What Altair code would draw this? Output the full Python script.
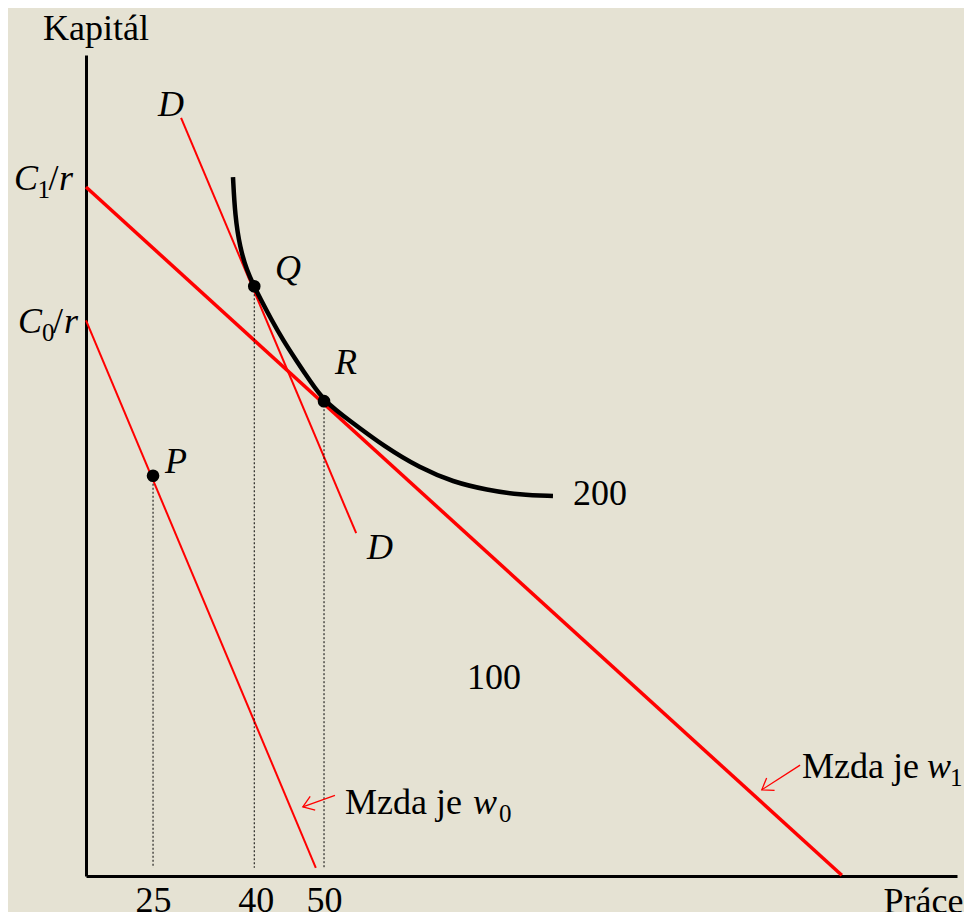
import math
import altair as alt
import pandas as pd

# ---------------- data ----------------
labor_ticks = [25, 40, 50]
x_domain = [15.2, 142.54]
y_domain = [0, 120]

# isocost line for cost C1 (wage w1)
c1_L = [15.2, 125.7]
c1_K = [100.7, 0.1]
# isocost line for cost C0 (wage w0)
c0_L = [15.2, 48.8]
c0_K = [81.2, 1.2]
# line DD (parallel to the C0 line)
dd_L = [29.1, 54.7]
dd_K = [110.8, 50.1]

# isoquant q = 200
iso_L = [36.69, 36.98, 37.71, 38.74, 39.76, 40.64, 42.25, 44.00, 45.90, 47.95, 50.00,
         53.80, 58.91, 64.03, 68.85, 73.83, 78.65, 83.47]
iso_K = [102.16, 96.61, 91.79, 88.45, 86.23, 84.48, 81.41, 78.34, 75.42, 72.35, 69.42,
         66.50, 62.70, 59.63, 57.59, 56.42, 55.69, 55.54]

# optimum points
pt_names = ["P", "Q", "R"]
pt_L = [25.0, 39.8, 50.0]
pt_K = [58.5, 86.2, 69.4]
drop_K = 1.2

# arrows (tail -> head)
arr_tail_L = [119.6, 51.6]
arr_tail_K = [16.2, 11.8]
arr_head_L = [114.0, 46.9]
arr_head_K = [12.6, 10.1]

# text labels
it_text = ["D", "Q", "R", "P", "D", "C", "r", "C", "r", "w", "w"]
it_L = [25.73, 42.83, 51.60, 26.75, 56.28, 4.67, 11.25, 5.26, 11.98, 138.15, 71.78]
it_K = [111.08, 87.11, 73.37, 58.9, 46.33, 100.26, 100.26, 79.36, 79.36, 14.32, 9.06]

rg_text = ["200", "100", "/", "/", "Mzda je", "Mzda je"]
rg_L = [86.40, 70.90, 9.70, 10.38, 119.88, 53.07]
rg_K = [54.22, 27.33, 100.26, 79.36, 14.32, 9.06]

sub_text = ["1", "0", "1", "0"]
sub_L = [8.12, 8.77, 141.52, 75.58]
sub_K = [99.09, 78.19, 13.15, 7.89]

# ---------------- chart ----------------
W, H = 871, 821
FONT = "Liberation Serif"
BG = "#e5e2d3"

X = alt.X(
    "L:Q",
    scale=alt.Scale(domain=x_domain, nice=False, zero=False),
    axis=alt.Axis(
        values=labor_ticks, ticks=False, tickSize=0, grid=False,
        domainColor="black", domainWidth=3,
        labelFont=FONT, labelFontSize=36, labelColor="black",
        labelBaseline="alphabetic", labelPadding=35, labelFlush=False,
        title="Práce", titleFont=FONT, titleFontSize=36, titleFontWeight="normal",
        titleColor="black", titleAlign="right", titleBaseline="alphabetic",
        titleX=877, titleY=36,
    ),
)
Y = alt.Y(
    "K:Q",
    scale=alt.Scale(domain=y_domain, nice=False, zero=False),
    axis=alt.Axis(
        labels=False, ticks=False, tickSize=0, grid=False,
        domainColor="black", domainWidth=3,
        title="Kapitál", titleFont=FONT, titleFontSize=36, titleFontWeight="normal",
        titleColor="black", titleAngle=0, titleAlign="center", titleBaseline="alphabetic",
        titleX=9.5, titleY=-16,
    ),
)

def seg(Ls, Ks):
    return pd.DataFrame({"L": Ls, "K": Ks})

c1 = alt.Chart(seg(c1_L, c1_K)).mark_line(color="#ff0000", strokeWidth=3.5).encode(x=X, y=Y)
c0 = alt.Chart(seg(c0_L, c0_K)).mark_line(color="#ff0000", strokeWidth=2).encode(x=X, y=Y)
dd = alt.Chart(seg(dd_L, dd_K)).mark_line(color="#ff0000", strokeWidth=2).encode(x=X, y=Y)

iso = alt.Chart(pd.DataFrame({"L": iso_L, "K": iso_K, "o": range(len(iso_L))})).mark_line(
    color="black", strokeWidth=4.5, interpolate="basis"
).encode(x=X, y=Y, order="o:Q")

pts_df = pd.DataFrame({"name": pt_names, "L": pt_L, "K": pt_K, "K2": [drop_K] * 3})
drops = alt.Chart(pts_df).mark_rule(color="black", strokeWidth=1, strokeDash=[2, 2]).encode(
    x=X, y=Y, y2="K2:Q"
)
dots = alt.Chart(pts_df).mark_point(filled=True, color="black", size=160, opacity=1).encode(x=X, y=Y)

# arrows
kx = W / (x_domain[1] - x_domain[0])
ky = H / (y_domain[1] - y_domain[0])
angles = []
for tl, tk, hl, hk in zip(arr_tail_L, arr_tail_K, arr_head_L, arr_head_K):
    dx = (hl - tl) * kx
    dy = -(hk - tk) * ky
    angles.append(math.degrees(math.atan2(dy, dx)) % 360)
arr_df = pd.DataFrame({
    "L": arr_tail_L, "K": arr_tail_K, "L2": arr_head_L, "K2": arr_head_K,
})
head_df = pd.DataFrame({"L": arr_head_L, "K": arr_head_K, "ang": angles})
shafts = alt.Chart(arr_df).mark_rule(color="#ff0000", strokeWidth=1.3).encode(
    x=X, y=Y, x2="L2:Q", y2="K2:Q"
)
heads = alt.Chart(head_df).mark_point(
    shape="M-1,-0.7L0,0L-1,0.7", filled=False, color="#ff0000", strokeWidth=1.3, size=440, opacity=1
).encode(x=X, y=Y, angle=alt.Angle("ang:Q", scale=None))

# text
it = alt.Chart(pd.DataFrame({"t": it_text, "L": it_L, "K": it_K})).mark_text(
    font=FONT, fontSize=36, fontStyle="italic", color="black", align="left", baseline="alphabetic"
).encode(x=X, y=Y, text="t:N")
rg = alt.Chart(pd.DataFrame({"t": rg_text, "L": rg_L, "K": rg_K})).mark_text(
    font=FONT, fontSize=36, color="black", align="left", baseline="alphabetic"
).encode(x=X, y=Y, text="t:N")
sb = alt.Chart(pd.DataFrame({"t": sub_text, "L": sub_L, "K": sub_K})).mark_text(
    font=FONT, fontSize=25, color="black", align="left", baseline="alphabetic"
).encode(x=X, y=Y, text="t:N")

chart = alt.layer(c0, dd, c1, drops, iso, dots, shafts, heads, it, rg, sb).properties(
    width=W, height=H,
    autosize=alt.AutoSizeParams(type="none"),
    padding={"left": 78, "top": 47, "right": 7, "bottom": 36},
    background=BG,
).configure_view(stroke=None)

chart.save("out.html", embed_options={"renderer": "svg", "actions": False})
